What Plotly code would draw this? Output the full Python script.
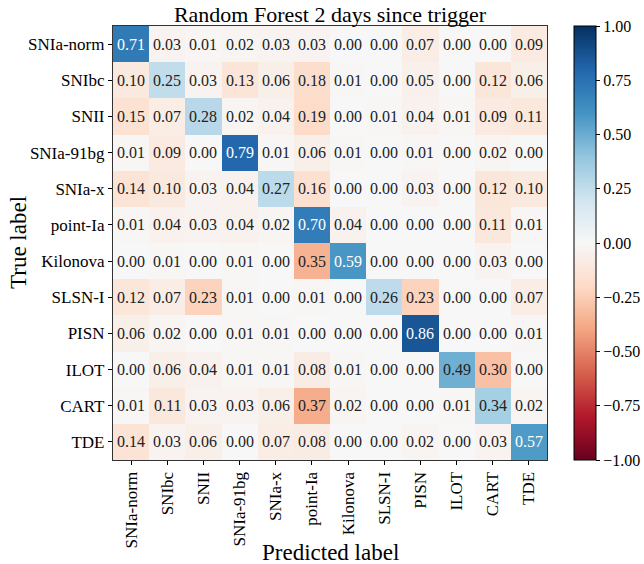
import plotly.graph_objects as go

labels = ["SNIa-norm", "SNIbc", "SNII", "SNIa-91bg", "SNIa-x", "point-Ia",
          "Kilonova", "SLSN-I", "PISN", "ILOT", "CART", "TDE"]

matrix = [
    [0.71, 0.03, 0.01, 0.02, 0.03, 0.03, 0.00, 0.00, 0.07, 0.00, 0.00, 0.09],
    [0.10, 0.25, 0.03, 0.13, 0.06, 0.18, 0.01, 0.00, 0.05, 0.00, 0.12, 0.06],
    [0.15, 0.07, 0.28, 0.02, 0.04, 0.19, 0.00, 0.01, 0.04, 0.01, 0.09, 0.11],
    [0.01, 0.09, 0.00, 0.79, 0.01, 0.06, 0.01, 0.00, 0.01, 0.00, 0.02, 0.00],
    [0.14, 0.10, 0.03, 0.04, 0.27, 0.16, 0.00, 0.00, 0.03, 0.00, 0.12, 0.10],
    [0.01, 0.04, 0.03, 0.04, 0.02, 0.70, 0.04, 0.00, 0.00, 0.00, 0.11, 0.01],
    [0.00, 0.01, 0.00, 0.01, 0.00, 0.35, 0.59, 0.00, 0.00, 0.00, 0.03, 0.00],
    [0.12, 0.07, 0.23, 0.01, 0.00, 0.01, 0.00, 0.26, 0.23, 0.00, 0.00, 0.07],
    [0.06, 0.02, 0.00, 0.01, 0.01, 0.00, 0.00, 0.00, 0.86, 0.00, 0.00, 0.01],
    [0.00, 0.06, 0.04, 0.01, 0.01, 0.08, 0.01, 0.00, 0.00, 0.49, 0.30, 0.00],
    [0.01, 0.11, 0.03, 0.03, 0.06, 0.37, 0.02, 0.00, 0.00, 0.01, 0.34, 0.02],
    [0.14, 0.03, 0.06, 0.00, 0.07, 0.08, 0.00, 0.00, 0.02, 0.00, 0.03, 0.57],
]

colorbar_ticks = [1.0, 0.75, 0.5, 0.25, 0.0, -0.25, -0.5, -0.75, -1.0]

FONT = "Liberation Serif"
W, H = 644, 564
L, R, T, B = 113, 97, 26, 104

# signed values for colouring: diagonal positive, off-diagonal negative
n = len(labels)
zsigned = [[matrix[i][j] if i == j else -matrix[i][j] for j in range(n)] for i in range(n)]

rdbu = [
    [0.0, "#67001f"], [0.1, "#b2182b"], [0.2, "#d6604d"], [0.3, "#f4a582"],
    [0.4, "#fddbc7"], [0.5, "#f7f7f7"], [0.6, "#d1e5f0"], [0.7, "#92c5de"],
    [0.8, "#4393c3"], [0.9, "#2166ac"], [1.0, "#053061"],
]

fig = go.Figure()
fig.add_trace(go.Heatmap(
    z=zsigned, x=labels, y=labels, zmin=-1, zmax=1, colorscale=rdbu,
    xgap=0, ygap=0, hoverinfo="skip",
    colorbar=dict(
        x=(574 - L) / (W - L - R), xanchor="left", y=0.5, yanchor="middle", len=1.0, lenmode="fraction",
        xpad=0, ypad=0,
        thickness=22, outlinewidth=1, outlinecolor="black",
        tickvals=colorbar_ticks, ticktext=[f"{v:.2f}".replace("-", "\u2212") for v in colorbar_ticks],
        ticks="outside", ticklen=4, tickcolor="black",
        tickfont=dict(family=FONT, size=16, color="black"),
    ),
))

for i in range(n):
    for j in range(n):
        v = matrix[i][j]
        col = "white" if (i == j and v > 0.5) else "#222222"
        fig.add_annotation(x=labels[j], y=labels[i], text=f"{v:.2f}", showarrow=False,
                           font=dict(family=FONT, size=16, color=col))

# axis titles as paper annotations
fig.add_annotation(xref="paper", yref="paper", x=0.5, y=-(552 - (H - B)) / (H - T - B),
                   xanchor="center", yanchor="middle", text="Predicted label", showarrow=False,
                   font=dict(family=FONT, size=23, color="black"))
fig.add_annotation(xref="paper", yref="paper", x=-(L - 18) / (W - L - R), y=0.5,
                   xanchor="center", yanchor="middle", text="True label", textangle=-90, showarrow=False,
                   font=dict(family=FONT, size=23, color="black"))

fig.update_layout(
    width=W, height=H,
    margin=dict(l=L, r=R, t=T, b=B, autoexpand=False),
    paper_bgcolor="white", plot_bgcolor="white",
    title=dict(text="Random Forest 2 days since trigger", x=(L + W - R) / 2 / W, xanchor="center",
               y=1 - 14 / H, yanchor="middle", font=dict(family=FONT, size=22, color="black")),
    xaxis=dict(automargin=False,
               tickangle=-90, tickfont=dict(family=FONT, size=17, color="black"),
               ticks="outside", ticklen=4, tickcolor="black", showline=True, linecolor="#333333",
               linewidth=1.2, mirror=True, showgrid=False, zeroline=False),
    yaxis=dict(automargin=False,
               autorange="reversed", tickfont=dict(family=FONT, size=17, color="black"),
               ticks="outside", ticklen=4, tickcolor="black", showline=True, linecolor="#333333",
               linewidth=1.2, mirror=True, showgrid=False, zeroline=False),
)

fig.write_html("out.html")
